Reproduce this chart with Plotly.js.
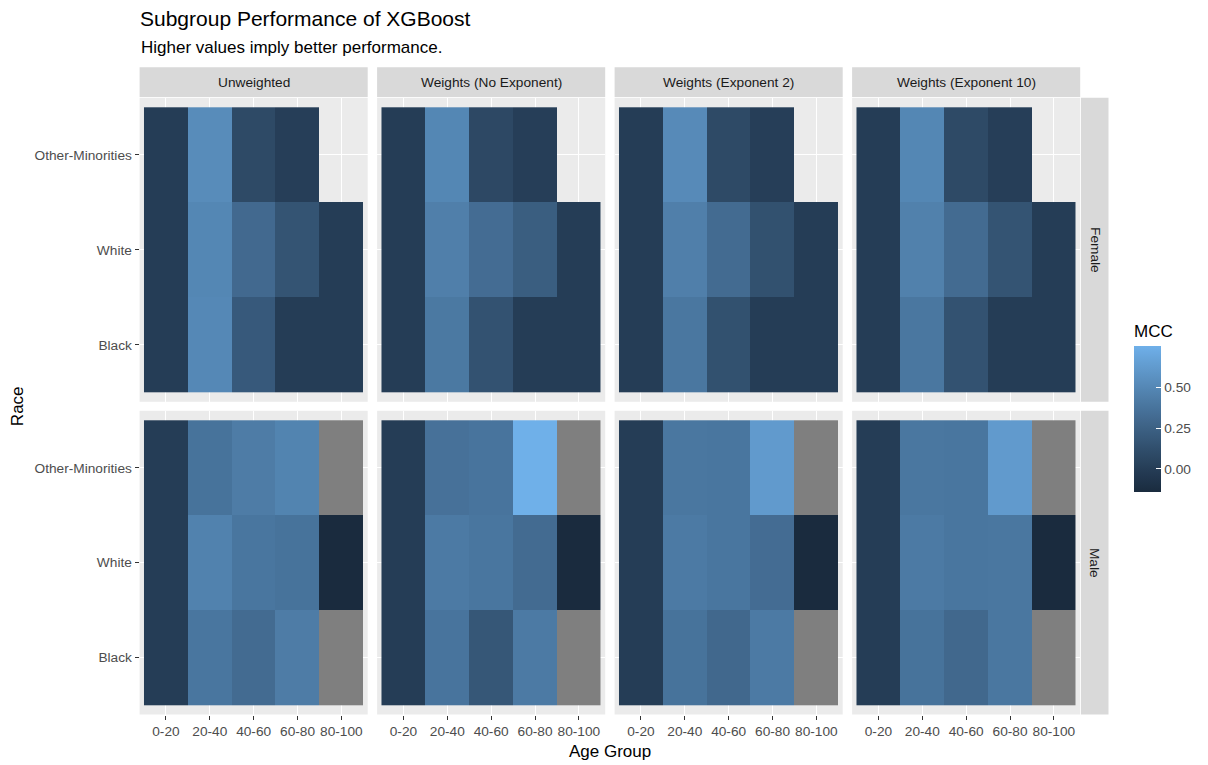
<!DOCTYPE html>
<html>
<head>
<meta charset="utf-8">
<script src="https://cdn.plot.ly/plotly-3.0.1.min.js"></script>
<style>html,body{margin:0;padding:0;background:#fff;}#chart{width:1208px;height:765px;}</style>
</head>
<body>
<div id="chart"></div>
<script>
// ---------------- DATA ----------------
const ageGroups = ["0-20", "20-40", "40-60", "60-80", "80-100"];
const races = ["Black", "White", "Other-Minorities"];   // bottom -> top
const sexes = ["Female", "Male"];
const weightings = ["Unweighted", "Weights (No Exponent)", "Weights (Exponent 2)", "Weights (Exponent 10)"];
// "NA" = MCC not defined (grey tile); null = subgroup absent (no tile)
// rows: Black, White, Other-Minorities ; columns: ageGroups
const mccFemaleUnweighted = [
  [0.00, 0.51, 0.20, 0.00, 0.00],
  [0.00, 0.50, 0.31, 0.16, 0.00],
  [0.00, 0.53, 0.09, 0.01, null]
];
const mccFemaleNoExp = [
  [0.00, 0.41, 0.15, 0.00, 0.00],
  [0.00, 0.45, 0.33, 0.23, 0.00],
  [0.00, 0.50, 0.08, 0.01, null]
];
const mccFemaleExp2 = [
  [0.00, 0.40, 0.14, 0.00, 0.00],
  [0.00, 0.45, 0.32, 0.14, 0.00],
  [0.00, 0.52, 0.09, 0.01, null]
];
const mccFemaleExp10 = [
  [0.00, 0.40, 0.15, 0.00, 0.00],
  [0.00, 0.46, 0.32, 0.16, 0.00],
  [0.00, 0.50, 0.09, 0.01, null]
];
const mccMaleUnweighted = [
  [0.00, 0.39, 0.32, 0.43, "NA"],
  [0.00, 0.47, 0.39, 0.37, -0.14],
  [0.00, 0.37, 0.43, 0.48, "NA"]
];
const mccMaleNoExp = [
  [0.00, 0.38, 0.18, 0.42, "NA"],
  [0.00, 0.42, 0.39, 0.32, -0.14],
  [0.00, 0.36, 0.38, 0.757, "NA"]
];
const mccMaleExp2 = [
  [0.00, 0.37, 0.30, 0.42, "NA"],
  [0.00, 0.42, 0.39, 0.33, -0.14],
  [0.00, 0.40, 0.39, 0.62, "NA"]
];
const mccMaleExp10 = [
  [0.00, 0.37, 0.30, 0.40, "NA"],
  [0.00, 0.42, 0.39, 0.40, -0.14],
  [0.00, 0.40, 0.39, 0.62, "NA"]
];
const mccPanels = [
  [mccFemaleUnweighted, mccFemaleNoExp, mccFemaleExp2, mccFemaleExp10],
  [mccMaleUnweighted, mccMaleNoExp, mccMaleExp2, mccMaleExp10]
];
const mccTicks = [0, 0.25, 0.5];
const mccTickText = ["0.00", "0.25", "0.50"];

// ---------------- STYLE / LAYOUT ----------------
const W = 1208, H = 765;
const FONT = '"Liberation Sans", Arial, Helvetica, sans-serif';
const panelX = [[139.6, 367.7], [377.1, 605.2], [614.6, 842.7], [852.1, 1080.2]];
const panelY = [[97.8, 401.8], [410.8, 714.5]];
const stripTop = [67.3, 97.0];
const stripRight = [1081.0, 1108.5];
const SMALL = 13.7;

// ggplot2 default continuous gradient (#132B43 -> #56B1F7) interpolated in Lab,
// slightly muted to match the reference rendering
function hexToRgb(h){return [parseInt(h.slice(1,3),16),parseInt(h.slice(3,5),16),parseInt(h.slice(5,7),16)];}
function srgbToLin(c){c/=255;return c<=0.04045?c/12.92:Math.pow((c+0.055)/1.055,2.4);}
function linToSrgb(c){c=c<=0.0031308?12.92*c:1.055*Math.pow(c,1/2.4)-0.055;return Math.max(0,Math.min(255,Math.round(c*255)));}
const Xn=0.95047,Yn=1.0,Zn=1.08883;
function f(t){return t>216/24389?Math.cbrt(t):(24389/27*t+16)/116;}
function fi(t){return t*t*t>216/24389?t*t*t:(116*t-16)/(24389/27);}
function rgbToLab(rgb){const [r,g,b]=rgb.map(srgbToLin);
  const X=0.4124*r+0.3576*g+0.1805*b, Y=0.2126*r+0.7152*g+0.0722*b, Z=0.0193*r+0.1192*g+0.9505*b;
  const fx=f(X/Xn),fy=f(Y/Yn),fz=f(Z/Zn);return [116*fy-16,500*(fx-fy),200*(fy-fz)];}
function labToRgb(lab){const fy=(lab[0]+16)/116,fx=fy+lab[1]/500,fz=fy-lab[2]/200;
  const X=Xn*fi(fx),Y=Yn*fi(fy),Z=Zn*fi(fz);
  const r=3.2406*X-1.5372*Y-0.4986*Z,g=-0.9689*X+1.8758*Y+0.0415*Z,b=0.0557*X-0.2040*Y+1.0570*Z;
  return 'rgb('+[r,g,b].map(linToSrgb).join(',')+')';}
const labLo=rgbToLab(hexToRgb('#132B43')), labHi=rgbToLab(hexToRgb('#56B1F7'));
const CHROMA = 0.82;
const colorscale=[];
for(let i=0;i<=20;i++){const t=i/20;const lab=[0,1,2].map(k=>labLo[k]+(labHi[k]-labLo[k])*t);
  colorscale.push([t,labToRgb([lab[0],lab[1]*CHROMA,lab[2]*CHROMA])]);}

const allVals = mccPanels.flat(3).filter(v => typeof v === 'number');
const cmin = Math.min(...allVals), cmax = Math.max(...allVals);

const data = [];
const layout = {
  width: W, height: H,
  margin: {l: 0, r: 0, t: 0, b: 0},
  paper_bgcolor: '#FFFFFF',
  plot_bgcolor: '#EBEBEB',
  font: {family: FONT, color: '#4D4D4D', size: SMALL},
  showlegend: false,
  title: {text: 'Subgroup Performance of XGBoost', x: 140/W, xanchor: 'left', xref: 'container',
          y: 1 - 19/H, yanchor: 'middle', yref: 'container', font: {size: 21, color: '#000000', family: FONT}},
  coloraxis: {
    cmin: cmin, cmax: cmax, colorscale: colorscale,
    colorbar: {
      x: 1134/W, xanchor: 'left', y: 1 - 491.7/H, yanchor: 'bottom',
      thickness: 27, thicknessmode: 'pixels', len: 170, lenmode: 'pixels',
      xpad: 0, ypad: 0, outlinewidth: 0,
      tickvals: mccTicks, ticktext: mccTickText,
      ticks: 'inside', ticklen: 5, tickcolor: '#FFFFFF', tickwidth: 1,
      tickfont: {size: SMALL, color: '#4D4D4D', family: FONT},
      title: {text: 'MCC', side: 'top', font: {size: 17, color: '#000000', family: FONT}}
    }
  },
  shapes: [],
  annotations: []
};

let idx = 0;
for (let r = 0; r < 2; r++) {
  for (let c = 0; c < 4; c++) {
    idx++;
    const xa = 'xaxis' + (idx === 1 ? '' : idx), ya = 'yaxis' + (idx === 1 ? '' : idx);
    const xr = 'x' + (idx === 1 ? '' : idx), yr = 'y' + (idx === 1 ? '' : idx);
    layout[xa] = {
      domain: [panelX[c][0]/W, panelX[c][1]/W], anchor: yr,
      type: 'category', categoryorder: 'array', categoryarray: ageGroups,
      range: [-0.6, ageGroups.length - 0.4], fixedrange: true,
      showgrid: true, gridcolor: '#FFFFFF', gridwidth: 1.1, zeroline: false, showline: false,
      showticklabels: r === 1, ticks: r === 1 ? 'outside' : '', ticklen: 4, tickcolor: '#333333', tickwidth: 1,
      tickfont: {size: SMALL, color: '#4D4D4D', family: FONT}
    };
    layout[ya] = {
      domain: [1 - panelY[r][1]/H, 1 - panelY[r][0]/H], anchor: xr,
      type: 'category', categoryorder: 'array', categoryarray: races,
      range: [-0.6, races.length - 0.4], fixedrange: true,
      showgrid: true, gridcolor: '#FFFFFF', gridwidth: 1.1, zeroline: false, showline: false,
      showticklabels: c === 0, ticks: c === 0 ? 'outside' : '', ticklen: 4, tickcolor: '#333333', tickwidth: 1,
      tickfont: {size: SMALL, color: '#4D4D4D', family: FONT}
    };
    const z = mccPanels[r][c];
    const zVal = z.map(row => row.map(v => typeof v === 'number' ? v : null));
    const zNA = z.map(row => row.map(v => v === 'NA' ? 1 : null));
    data.push({
      type: 'heatmap', x: ageGroups, y: races, z: zVal, xaxis: xr, yaxis: yr,
      coloraxis: 'coloraxis', xgap: 0, ygap: 0, hoverongaps: false,
      name: sexes[r] + ' / ' + weightings[c]
    });
    data.push({
      type: 'heatmap', x: ageGroups, y: races, z: zNA, xaxis: xr, yaxis: yr,
      colorscale: [[0, '#7F7F7F'], [1, '#7F7F7F']], zmin: 0, zmax: 1, showscale: false,
      xgap: 0, ygap: 0, hoverongaps: false, name: 'NA'
    });
  }
}

// top facet strips
for (let c = 0; c < 4; c++) {
  layout.shapes.push({type: 'rect', xref: 'paper', yref: 'paper',
    x0: panelX[c][0]/W, x1: panelX[c][1]/W, y0: 1 - stripTop[1]/H, y1: 1 - stripTop[0]/H,
    fillcolor: '#D9D9D9', line: {width: 0}, layer: 'below'});
  layout.annotations.push({xref: 'paper', yref: 'paper', x: (panelX[c][0] + panelX[c][1])/2/W,
    y: 1 - (stripTop[0] + stripTop[1])/2/H, text: weightings[c], showarrow: false,
    xanchor: 'center', yanchor: 'middle', font: {size: 13.7, color: '#1A1A1A', family: FONT}});
}
// right facet strips
for (let r = 0; r < 2; r++) {
  layout.shapes.push({type: 'rect', xref: 'paper', yref: 'paper',
    x0: stripRight[0]/W, x1: stripRight[1]/W, y0: 1 - panelY[r][1]/H, y1: 1 - panelY[r][0]/H,
    fillcolor: '#D9D9D9', line: {width: 0}, layer: 'below'});
  layout.annotations.push({xref: 'paper', yref: 'paper', x: (stripRight[0] + stripRight[1])/2/W,
    y: 1 - (panelY[r][0] + panelY[r][1])/2/H, text: sexes[r], showarrow: false, textangle: 90,
    xanchor: 'center', yanchor: 'middle', font: {size: 13.7, color: '#1A1A1A', family: FONT}});
}
// subtitle and shared axis titles
layout.annotations.push({xref: 'paper', yref: 'paper', x: 139/W, y: 1 - 47/H, xanchor: 'left', yanchor: 'middle',
  text: 'Higher values imply better performance.', showarrow: false, font: {size: 17, color: '#000000', family: FONT}});
layout.annotations.push({xref: 'paper', yref: 'paper', x: (panelX[0][0] + panelX[3][1])/2/W, y: 1 - 751/H,
  xanchor: 'center', yanchor: 'middle', text: 'Age Group', showarrow: false, font: {size: 17, color: '#000000', family: FONT}});
layout.annotations.push({xref: 'paper', yref: 'paper', x: 17/W, y: 1 - (panelY[0][0] + panelY[1][1])/2/H,
  xanchor: 'center', yanchor: 'middle', textangle: -90, text: 'Race', showarrow: false, font: {size: 17, color: '#000000', family: FONT}});

Plotly.newPlot('chart', data, layout, {displayModeBar: false, responsive: false});
</script>
</body>
</html>
